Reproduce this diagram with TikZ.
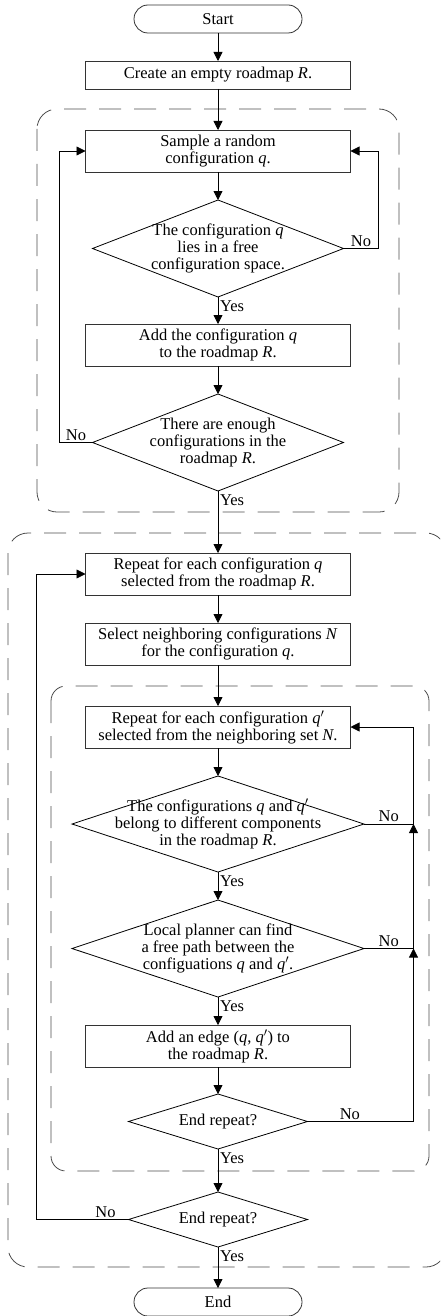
\documentclass[tikz,border=0pt]{standalone}
\usepackage{fontspec}
\setmainfont{Liberation Serif}
\usetikzlibrary{arrows.meta, positioning, shapes.geometric}

\begin{document}
\begin{tikzpicture}
    [
        x=1pt, y=-1pt,
        font=\fontsize{16.5}{16.8}\selectfont,
        every node/.style = {
            outer sep=0pt
            },
        terminal/.style = {
            rectangle, rounded corners=14pt, draw=black!80, line width=0.8pt,
            minimum width=168pt, minimum height=28pt, inner sep=0pt
            },
        process/.style = {
            rectangle, draw=black!80, line width=0.8pt, align=center,
            minimum width=265pt, minimum height=42pt, inner sep=1pt
            },
        decision/.style = {
            diamond, draw=black, line width=0.8pt, align=center,
            inner sep=-60pt
            },
        arrow/.style = {
            draw, line width=0.8pt, -{Triangle[length=9pt, width=9pt]}
            },
        line/.style = {
            draw, line width=0.8pt
            },
        group/.style = {
            draw=black!70, line width=0.8pt, rounded corners=20pt,
            dash pattern=on 22pt off 13pt
            },
        yes/.style = {
            anchor=north west, inner sep=2pt, yshift=-2pt
            },
        no/.style = {
            above, inner sep=2pt
            },
    ]
    \useasboundingbox (0,0) rectangle (440,1316);
    \clip (0,0) rectangle (440,1316);

    % dashed groups
    \draw[group] (37,109) rectangle (399,512);
    \draw[group] (8,533) rectangle (446,1267);
    \draw[group, rounded corners=15pt] (51,686) rectangle (429,1171);

    \node[terminal] (start) at (218,19) {Start};
    \node[process, minimum height=28pt] (create) [below=28pt of start] {Create an empty roadmap \textit{R}.};
    \node[process] (sample) [below=41pt of create] {Sample a random\\configuration \textit{q}.};
    \node[decision, minimum width=251pt, minimum height=97pt] (free) [below=28pt of sample]
        {The configuration \textit{q}\\lies in a free\\configuration space.};
    \node[process] (add) [below=27pt of free] {Add the configuration \textit{q}\\to the roadmap \textit{R}.};
    \node[decision, minimum width=251pt, minimum height=97pt] (enough) [below=28pt of add]
        {There are enough\\configurations in the\\roadmap \textit{R}.};
    \node[process] (repeatq) [below=62pt of enough]
        {Repeat for each configuration \textit{q}\\selected from the roadmap \textit{R}.};
    \node[process] (select) [below=28pt of repeatq]
        {Select neighboring configurations \textit{N}\\for the configuration \textit{q}.};
    \node[process] (repeatqq) [below=41pt of select]
        {Repeat for each configuration \textit{q}$'$\\selected from the neighboring set \textit{N}.};
    \node[decision, minimum width=292pt, minimum height=96pt] (differ) [below=28pt of repeatqq]
        {The configurations \textit{q} and \textit{q}$'$\\belong to different components\\in the roadmap \textit{R}.};
    \node[decision, minimum width=292pt, minimum height=97pt] (planner) [below=28pt of differ]
        {Local planner can find\\a free path between the\\configuations \textit{q} and \textit{q}$'$.};
    \node[process] (edge) [below=28pt of planner] {Add an edge (\textit{q}, \textit{q}$'$) to\\the roadmap \textit{R}.};
    \node[decision, minimum width=179pt, minimum height=55pt] (endin) [below=27pt of edge] {End repeat?};
    \node[decision, minimum width=179pt, minimum height=55pt] (endout) [below=43pt of endin] {End repeat?};
    \node[terminal] (end) [below=41pt of endout] {End};

    % main flow
    \draw[arrow] (start) -- (create);
    \draw[arrow] (create) -- (sample);
    \draw[arrow] (sample) -- (free);
    \draw[arrow] (free) -- node[yes, pos=0] {Yes} (add);
    \draw[arrow] (add) -- (enough);
    \draw[arrow] (enough) -- node[yes, pos=0] {Yes} (repeatq);
    \draw[arrow] (repeatq) -- (select);
    \draw[arrow] (select) -- (repeatqq);
    \draw[arrow] (repeatqq) -- (differ);
    \draw[arrow] (differ) -- node[yes, pos=0] {Yes} (planner);
    \draw[arrow] (planner) -- node[yes, pos=0] {Yes} (edge);
    \draw[arrow] (edge) -- (endin);
    \draw[arrow] (endin) -- node[yes, pos=0] {Yes} (endout);
    \draw[arrow] (endout) -- node[yes, pos=0] {Yes} (end);

    % sampling loops
    \draw[arrow] (free.east) -- node[no] {No} ++(35,0) |- (sample.east);
    \draw[arrow] (enough.west) -- node[no] {No} ++(-33,0) |- (sample.west);

    % inner loop
    \coordinate (innerloop) at ([xshift=63pt]repeatqq.east);
    \draw[line] (differ.east) -- node[no] {No} (differ.east -| innerloop);
    \draw[line] (planner.east) -- node[no] {No} (planner.east -| innerloop);
    \draw[line] (endin.east) -- node[no, pos=0.4] {No} (endin.east -| innerloop);
    \draw[arrow] (endin.east -| innerloop) -- (planner.east -| innerloop);
    \draw[arrow] (planner.east -| innerloop) -- (differ.east -| innerloop);
    \draw[arrow] (differ.east -| innerloop) -- (innerloop) -- (repeatqq.east);

    % outer loop
    \draw[arrow] (endout.west) -- node[no, pos=0.25] {No} ++(-92,0) |- (repeatq.west);
\end{tikzpicture}
\end{document}
